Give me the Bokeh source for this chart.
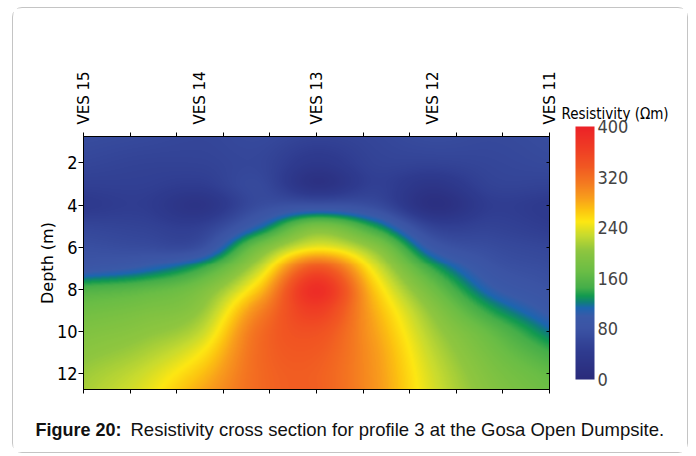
import numpy as np
from bokeh.plotting import figure
from bokeh.layouts import row, column
from bokeh.models import (LinearAxis, FixedTicker, Range1d, LinearColorMapper,
                          ColorBar, Label, Title)
from bokeh.embed import file_html
from bokeh.resources import INLINE

# ---------------- data ----------------
ves_labels = ["VES 15", "VES 14", "VES 13", "VES 12", "VES 11"]
ves_pos = [0, 25, 50, 75, 100]                 # distance along profile
dist_ticks = [0, 10, 20, 30, 40, 50, 60, 70, 80, 90, 100]
depth_ticks = [2, 4, 6, 8, 10, 12]
cbar_ticks = [0, 80, 160, 240, 320, 400]

grid_x = [0, 12.5, 25, 37.5, 50, 62.5, 75, 87.5, 100]
grid_depth = [0.75, 2, 3, 4, 5, 6, 7, 8, 9, 10, 11, 12, 12.75]
# resistivity (ohm-m), one list per column of grid_x, top to bottom
res_x0 = [70, 60, 50, 40, 60, 75, 90, 150, 175, 190, 200, 210, 215]
res_x12 = [65, 55, 50, 45, 55, 70, 105, 160, 185, 200, 215, 230, 238]
res_x25 = [60, 55, 45, 25, 50, 75, 140, 185, 205, 225, 248, 268, 280]
res_x37 = [65, 60, 65, 70, 110, 180, 225, 265, 300, 318, 322, 322, 322]
res_x50 = [55, 35, 20, 80, 185, 245, 340, 385, 365, 345, 335, 330, 330]
res_x62 = [60, 55, 50, 70, 135, 200, 240, 265, 278, 285, 290, 292, 293]
res_x75 = [70, 55, 30, 15, 55, 95, 140, 175, 200, 215, 225, 232, 235]
res_x87 = [65, 60, 55, 45, 55, 70, 85, 105, 135, 165, 180, 190, 195]
res_x100 = [70, 65, 55, 40, 45, 60, 70, 80, 95, 118, 145, 165, 172]

cbar_title = "Resistivity (Ωm)"
caption_bold = "Figure 20:"
caption_rest = "Resistivity cross section for profile 3 at the Gosa Open Dumpsite."

# ---------------- style ----------------
pal_vals = [0, 40, 80, 100, 113, 122, 132, 145, 170, 205, 228, 250, 268, 288,
            310, 335, 365, 400]
pal_cols = ["#2a2b7b", "#2e3a8e", "#3b53a4", "#3a5aa8", "#1c65b0", "#0f7f79",
            "#129a4f", "#45ae49", "#6abd45", "#8fc63f", "#c6da2f", "#fde712",
            "#fcc410", "#f89c1c", "#f47a20", "#f15a22", "#ef3e24", "#ec2227"]


def hex2rgb(h):
    return [int(h[i:i + 2], 16) for i in (1, 3, 5)]


def build_palette(n=256):
    vals = np.array(pal_vals, float)
    rgb = np.array([hex2rgb(c) for c in pal_cols], float)
    v = np.linspace(0, 400, n)
    out = []
    for vv in v:
        r = np.interp(vv, vals, rgb[:, 0])
        g = np.interp(vv, vals, rgb[:, 1])
        b = np.interp(vv, vals, rgb[:, 2])
        out.append("#%02x%02x%02x" % (int(round(r)), int(round(g)), int(round(b))))
    return out


def smooth_1d(xk, Y, xq):
    """cubic Hermite rendering of a gridded field along axis 0"""
    xk = np.asarray(xk, float)
    n = len(xk)
    m = np.zeros_like(Y)
    m[1:-1] = (Y[2:] - Y[:-2]) / (xk[2:] - xk[:-2])[:, None]
    m[0] = (Y[1] - Y[0]) / (xk[1] - xk[0])
    m[-1] = (Y[-1] - Y[-2]) / (xk[-1] - xk[-2])
    idx = np.clip(np.searchsorted(xk, xq) - 1, 0, n - 2)
    h = (xk[idx + 1] - xk[idx])[:, None]
    t = ((xq - xk[idx]) / (xk[idx + 1] - xk[idx]))[:, None]
    h00 = 2 * t ** 3 - 3 * t ** 2 + 1
    h10 = t ** 3 - 2 * t ** 2 + t
    h01 = -2 * t ** 3 + 3 * t ** 2
    h11 = t ** 3 - t ** 2
    return h00 * Y[idx] + h10 * h * m[idx] + h01 * Y[idx + 1] + h11 * h * m[idx + 1]


G = np.array([res_x0, res_x12, res_x25, res_x37, res_x50, res_x62, res_x75,
              res_x87, res_x100], float).T          # (depth, x)
dq = np.linspace(grid_depth[0], grid_depth[-1], 254)
xq = np.linspace(grid_x[0], grid_x[-1], 466)
Z = smooth_1d(grid_depth, G, dq)                    # (254, 9)
Z = smooth_1d(grid_x, Z.T.copy(), xq).T             # (254, 466)
Z = np.clip(Z, 0, 400)

palette = build_palette()
mapper = LinearColorMapper(palette=palette, low=0, high=400)

narrow = "DejaVu Sans Condensed"

# ---------------- main section plot ----------------
p = figure(width=547, height=391, output_backend="svg", toolbar_location=None,
           x_range=Range1d(0, 100), y_range=Range1d(12.75, 0.75),
           x_axis_location=None, y_axis_location=None,
           min_border_left=70, min_border_right=11, min_border_top=128,
           min_border_bottom=10)
p.grid.visible = False
p.outline_line_color = "black"
p.outline_line_width = 1

p.image(image=[Z], x=0, y=0.75, dw=100, dh=12, color_mapper=mapper)

top_ticks = LinearAxis(ticker=FixedTicker(ticks=dist_ticks),
                       major_label_overrides={v: "" for v in dist_ticks},
                       major_label_text_font_size="0px",
                       major_label_standoff=0,
                       major_tick_in=0, major_tick_out=4,
                       major_tick_line_color="black", axis_line_color="black",
                       minor_tick_line_color=None)
p.add_layout(top_ticks, "above")
top = LinearAxis(ticker=FixedTicker(ticks=ves_pos),
                 major_label_overrides={v: s for v, s in zip(ves_pos, ves_labels)},
                 major_label_orientation="vertical",
                 major_tick_line_color=None, minor_tick_line_color=None,
                 axis_line_color=None,
                 major_label_standoff=2,
                 major_label_text_font="DejaVu Sans",
                 major_label_text_font_size="15px",
                 major_label_text_color="black")
p.add_layout(top, "above")

bottom = LinearAxis(ticker=FixedTicker(ticks=dist_ticks),
                    major_label_overrides={v: "" for v in dist_ticks},
                    major_label_text_font_size="0px",
                    major_label_standoff=0,
                    major_tick_in=0, major_tick_out=4,
                    major_tick_line_color="black", axis_line_color="black",
                    minor_tick_line_color=None)
p.add_layout(bottom, "below")

left = LinearAxis(ticker=FixedTicker(ticks=depth_ticks),
                  axis_label="Depth (m)",
                  axis_label_text_font="DejaVu Sans",
                  axis_label_text_font_size="16px",
                  axis_label_text_font_style="normal",
                  axis_label_text_color="black",
                  axis_label_standoff=-3,
                  major_tick_in=0, major_tick_out=5,
                  major_label_standoff=1,
                  major_label_text_font=narrow,
                  major_label_text_font_size="18px",
                  major_label_text_color="black",
                  minor_tick_line_color=None,
                  major_tick_line_color="black", axis_line_color="black")
p.add_layout(left, "left")

right = LinearAxis(ticker=FixedTicker(ticks=depth_ticks),
                   major_label_overrides={v: "" for v in depth_ticks},
                   major_label_text_font_size="0px",
                   major_tick_in=3, major_tick_out=0,
                   major_label_standoff=0,
                   minor_tick_line_color=None,
                   major_tick_line_color="black", axis_line_color="black")
p.add_layout(right, "right")

# ---------------- colour scale ----------------
cbf = figure(width=127, height=391, output_backend="svg", toolbar_location=None,
             x_range=Range1d(0, 1), y_range=Range1d(0, 1), min_border=0,
             min_border_top=119,
             x_axis_location=None, y_axis_location=None)
cbf.grid.visible = False
cbf.outline_line_color = None
cbf.add_layout(Title(text=cbar_title, align="left", offset=1, standoff=28,
                     text_font=narrow, text_font_size="15px",
                     text_font_style="normal", text_color="black"), "above")
cb = ColorBar(color_mapper=mapper, ticker=FixedTicker(ticks=cbar_ticks),
              location=(15, 10), width=19, height=253, padding=0, margin=0,
              major_label_text_font=narrow, major_label_text_font_size="18px",
              major_tick_line_color=None, bar_line_color=None,
              label_standoff=3, border_line_color=None,
              background_fill_color=None)
cbf.add_layout(cb)

# ---------------- caption ----------------
capf = figure(width=674, height=53, output_backend="svg", toolbar_location=None,
              x_range=Range1d(0, 1), y_range=Range1d(0, 1), min_border=0,
              x_axis_location=None, y_axis_location=None)
capf.grid.visible = False
capf.outline_line_color = None
capf.add_layout(Label(x=22, y=23, x_units="screen", y_units="screen",
                      text=caption_bold, text_font="Liberation Sans",
                      text_font_style="bold", text_font_size="18px",
                      text_baseline="middle", text_color="#111111"))
capf.add_layout(Label(x=117, y=23, x_units="screen", y_units="screen",
                      text=caption_rest, text_font="Liberation Sans",
                      text_font_size="18.5px",
                      text_baseline="middle", text_color="#111111"))

layout = column(row(p, cbf), capf)
layout.margin = (7, 8, 3, 12)
layout.styles = {"border": "1px solid #c4c4c4", "border-radius": "10px"}

open("out.html", "w").write(file_html(layout, INLINE))
